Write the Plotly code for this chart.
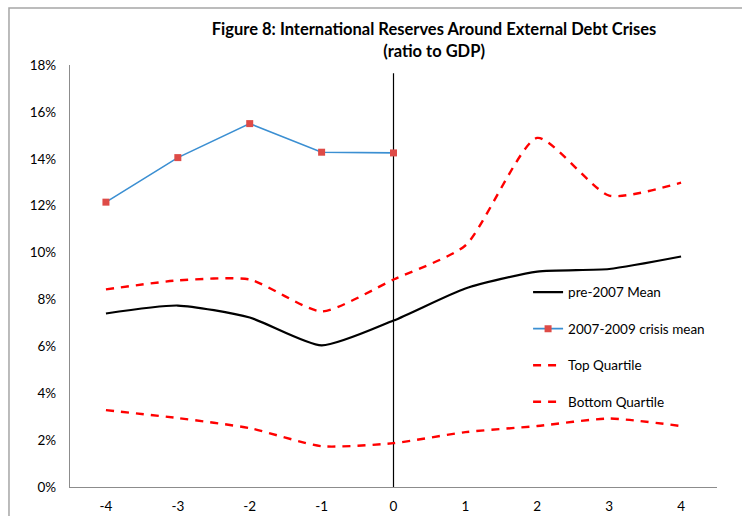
import plotly.graph_objects as go

years = [-4, -3, -2, -1, 0, 1, 2, 3, 4]
pre2007_mean = [7.40, 7.74, 7.23, 6.04, 7.10, 8.47, 9.19, 9.30, 9.83]
crisis_years = [-4, -3, -2, -1, 0]
crisis_mean = [12.15, 14.05, 15.50, 14.28, 14.25]
top_quartile = [8.43, 8.81, 8.85, 7.49, 8.85, 10.30, 14.89, 12.43, 12.98]
bottom_quartile = [3.28, 2.94, 2.51, 1.74, 1.87, 2.34, 2.60, 2.92, 2.60]
y_ticks = [0, 2, 4, 6, 8, 10, 12, 14, 16, 18]
vline_x = 0
vline_top = 17.65

FONT = "Lato, 'Open Sans', sans-serif"

fig = go.Figure()
fig.add_trace(go.Scatter(x=years, y=pre2007_mean, name="pre-2007 Mean", mode="lines",
                         line=dict(color="black", width=2.2, shape="spline", smoothing=0.6),
                         legendgroup="a"))
fig.add_trace(go.Scatter(x=crisis_years, y=crisis_mean, name="2007-2009 crisis mean", mode="lines+markers",
                         line=dict(color="#3b8fd2", width=1.6),
                         marker=dict(symbol="square", size=7, color="#de4b47"),
                         legendgroup="b"))
fig.add_trace(go.Scatter(x=years, y=top_quartile, name="Top Quartile", mode="lines",
                         line=dict(color="#ff0000", width=2.4, dash="8px,7px", shape="spline", smoothing=0.6),
                         legendgroup="c"))
fig.add_trace(go.Scatter(x=years, y=bottom_quartile, name="Bottom Quartile", mode="lines",
                         line=dict(color="#ff0000", width=2.4, dash="8px,7px", shape="spline", smoothing=0.6),
                         legendgroup="d"))

fig.add_shape(type="line", xref="x", yref="y", x0=vline_x, x1=vline_x, y0=0, y1=vline_top,
              line=dict(color="black", width=1.2), layer="below")

# outer chart border (top and left edges visible)
fig.add_shape(type="path", xref="paper", yref="paper",
              path="M -0.0943,-0.2 L -0.0943,1.135 L 1.2,1.135",
              line=dict(color="#a6a6a6", width=1.5))

fig.update_layout(
    width=742, height=516,
    margin=dict(l=70, r=25, t=65, b=29, autoexpand=False),
    paper_bgcolor="white", plot_bgcolor="white",
    font=dict(family=FONT, size=13, color="black"),
    title=dict(text="<b>Figure 8: International Reserves Around External Debt Crises<br>(ratio to GDP)</b>",
               x=0.585, xanchor="center", y=0.932, yanchor="top",
               font=dict(family=FONT, size=16.5, color="black")),
    showlegend=True,
    legend=dict(x=0.708, y=0.498, xanchor="left", yanchor="top", bgcolor="rgba(0,0,0,0)",
                tracegroupgap=16, traceorder="grouped",
                font=dict(family=FONT, size=13.5)),
    xaxis=dict(tickmode="array", tickvals=years, ticktext=[str(v) for v in years],
               showgrid=False, showline=True, linecolor="#8c8c8c", linewidth=1.2,
               ticks="", ticklabelstandoff=7, zeroline=False, automargin=False,
               range=[-4.5, 4.5], tickfont=dict(size=13.5)),
    yaxis=dict(range=[0, 18], tickvals=y_ticks, ticktext=[f"{v}%" for v in y_ticks],
               showgrid=False, showline=True, linecolor="#8c8c8c", linewidth=1.2,
               ticks="", ticklabelstandoff=10, zeroline=False, automargin=False,
               tickfont=dict(size=13.5)),
)

fig.write_html("out.html")
